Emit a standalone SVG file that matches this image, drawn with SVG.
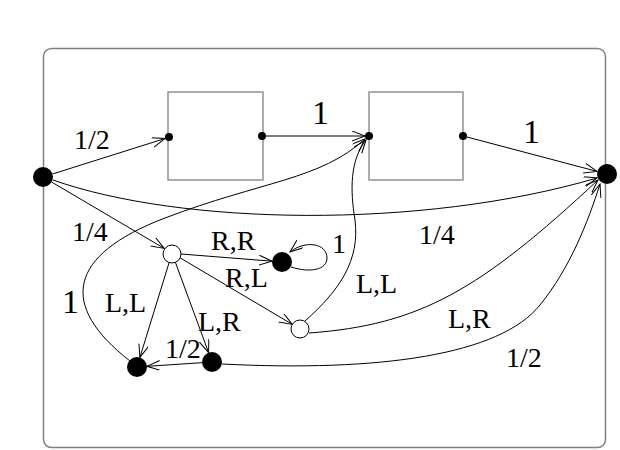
<svg xmlns="http://www.w3.org/2000/svg" width="620" height="450" viewBox="0 0 620 450">
<style>
.frame{fill:none;stroke:#808080;stroke-width:1.5}
.box{fill:#fff;stroke:#808080;stroke-width:1.3}
.e{fill:none;stroke:#000;stroke-width:1;marker-end:url(#ah)}
.lbl{font-family:"Liberation Serif","Times New Roman",serif;font-size:28px;fill:#000}
.big{font-size:34px}
.dot{fill:#000}
.open{fill:#fff;stroke:#000;stroke-width:1}
</style>
<defs>
<marker id="ah" markerUnits="userSpaceOnUse" markerWidth="16" markerHeight="12" refX="13" refY="5" orient="auto">
<path d="M0,0 L13,5 L0,10" fill="none" stroke="#000" stroke-width="1"/>
</marker>
</defs>
<rect class="frame" x="43.5" y="48.5" width="562" height="399" rx="8"/>
<g id="box1"><rect class="box" x="168" y="92" width="95" height="88"/></g>
<g id="box2"><rect class="box" x="369" y="92" width="94" height="88"/></g>
<g id="connectors">
<path class="e" d="M52.5,174 L165,138.5"/>
<path class="e" d="M266,136 L365,136"/>
<path class="e" d="M467,137 L597,171.4"/>
<path class="e" d="M53,180 C180,225 420,230 597,178"/>
<path class="e" d="M51.6,182 L164.2,248.4"/>
<path class="e" d="M181,254 L272,261.2"/>
<path class="e" d="M179.7,257.6 L292.3,324.4"/>
<path class="e" d="M169.4,261.6 L139.9,357.4"/>
<path class="e" d="M175.1,261.5 L208.6,352.6"/>
<path class="e" d="M202,362.7 L147,366.3"/>
<path class="e" d="M130,361 C58,305 68,255 165,218 S320,180 365,139"/>
<path class="e" d="M305,321 C340,290 360,260 355,220 C350,190 350,160 366,140"/>
<path class="e" d="M309,333 C420,325 480,290 598,180"/>
<path class="e" d="M222,364 C380,372 500,355 540,305 C570,268 588,222 600,184"/>
<path class="e" d="M291,267 C310,273 327,270 327,258 C327,243 305,240 290,252"/>
</g>
<g id="n_left"><circle class="dot" cx="43" cy="177" r="10"/></g>
<g id="n_right"><circle class="dot" cx="607" cy="174" r="10"/></g>
<g id="b1_in"><circle class="dot" cx="169" cy="137" r="4"/></g>
<g id="b1_out"><circle class="dot" cx="262" cy="136" r="4"/></g>
<g id="b2_in"><circle class="dot" cx="369" cy="136" r="4"/></g>
<g id="b2_out"><circle class="dot" cx="463" cy="136" r="4"/></g>
<g id="o1"><circle class="open" cx="172" cy="254" r="9"/></g>
<g id="o2"><circle class="open" cx="300" cy="329" r="9"/></g>
<g id="d_rr"><circle class="dot" cx="282" cy="262" r="10"/></g>
<g id="d_ll"><circle class="dot" cx="137" cy="367" r="10"/></g>
<g id="d_lr"><circle class="dot" cx="212" cy="362" r="10"/></g>
<g id="labels">
<text class="lbl" x="74" y="149">1/2</text>
<text class="lbl big" x="312" y="124">1</text>
<text class="lbl big" x="523" y="143">1</text>
<text class="lbl" x="72" y="241">1/4</text>
<text class="lbl" x="419" y="244">1/4</text>
<text class="lbl" x="211" y="250">R,R</text>
<text class="lbl" x="332" y="253">1</text>
<text class="lbl" x="225" y="287">R,L</text>
<text class="lbl" x="356" y="293">L,L</text>
<text class="lbl" x="105" y="312">L,L</text>
<text class="lbl big" x="62" y="313">1</text>
<text class="lbl" x="198" y="331">L,R</text>
<text class="lbl" x="165" y="358">1/2</text>
<text class="lbl" x="448" y="328">L,R</text>
<text class="lbl" x="506" y="367">1/2</text>
</g>
</svg>
